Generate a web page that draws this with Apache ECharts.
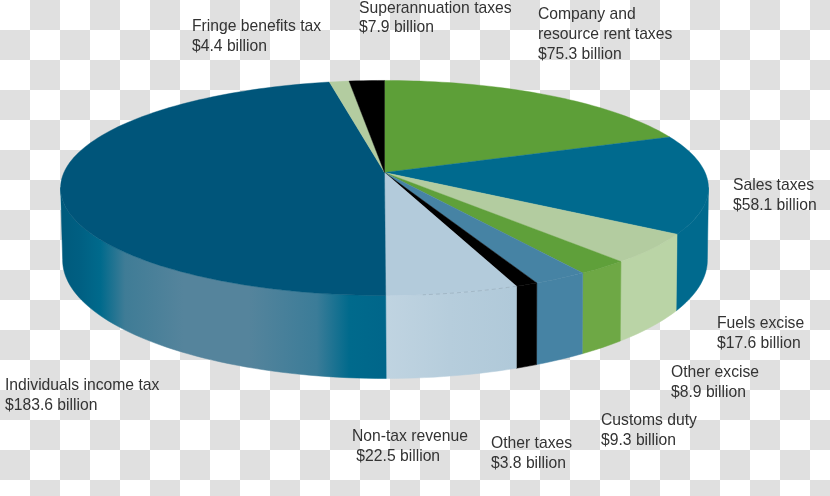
<!DOCTYPE html>
<html>
<head>
<meta charset="utf-8">
<style>html,body{margin:0;padding:0;background:#fff}#c{width:830px;height:496px}</style>
<script src="https://cdn.jsdelivr.net/npm/echarts@6/dist/echarts.min.js"></script>
</head>
<body>
<div id="c"></div>
<script>
// Data, clockwise from twelve o'clock
var categories = ['Company and\nresource rent taxes','Sales taxes','Fuels excise','Other excise','Customs duty','Other taxes','Non-tax revenue','Individuals income tax','Fringe benefits tax','Superannuation taxes'];
var values = [75.3,58.1,17.6,8.9,9.3,3.8,22.5,183.6,4.4,7.9];

// Styles
var topColors = ['#5d9f38','#006a8e','#b3cca0','#5fa03a','#4683a4','#000000','#b3cbdb','#00557a','#b3cca0','#000000'];
var wallColors = ['#5d9f38','#006a8e','#bad4a6','#6ea845','#4683a4','#000000',null,null,'#b3cca0','#000000'];
// Label anchors: left x, centre y of first line
var labelX = [538,733,717,671,601,491,352,5,192,359];
var labelY = [15,186,324,373,421,444,437,386,27,8.5];

var TOP = {x:384.5,y:172.5,a:320.6,b:105.3,k:0.144};
var BOTTOM = {x:385,y:243,a:319,b:116,k:0.144};
var SIL_A = 98, SIL_B = 262; // visible wall range, degrees

var total = values.reduce(function(s,v){return s+v;},0);
var starts = [], acc = 0;
values.forEach(function(v){starts.push(acc/total*360);acc+=v;});
function pt(e,deg){
  var t=deg*Math.PI/180,d=1+e.k*Math.cos(t);
  return [e.x+e.a*Math.sin(t)/d, e.y-e.b*Math.cos(t)/d];
}
function arc(e,a,b){
  var n=Math.max(2,Math.ceil(Math.abs(b-a)/1.5)),r=[];
  for(var i=0;i<=n;i++)r.push(pt(e,a+(b-a)*i/n));
  return r;
}
function wallFill(i){
  if(i===7)return {type:'linear',global:true,x:60,y:0,x2:385,y2:0,colorStops:[
    {offset:0,color:'#005a7c'},{offset:0.06,color:'#005f82'},{offset:0.125,color:'#006a8c'},{offset:0.2,color:'#3f7c96'},
    {offset:0.38,color:'#55849c'},{offset:0.58,color:'#55849c'},{offset:0.79,color:'#3b7c98'},{offset:0.89,color:'#006a8c'},{offset:1,color:'#00668a'}]};
  if(i===6)return {type:'linear',global:true,x:385,y:0,x2:515,y2:0,colorStops:[
    {offset:0,color:'#c0d4e1'},{offset:0.5,color:'#b6cddc'},{offset:1,color:'#b0c9d9'}]};
  return wallColors[i];
}
var checker=document.createElement('canvas');
checker.width=60;checker.height=60;
(function(){var g=checker.getContext('2d');g.fillStyle='#ffffff';g.fillRect(0,0,60,60);g.fillStyle='#e0e0e0';g.fillRect(30,0,30,30);g.fillRect(0,30,30,30);})();

var data = values.map(function(v,i){return {name:categories[i],value:v};});
var dashA = starts[5]+values[5]/total*360;

var chart = echarts.init(document.getElementById('c'),null,{renderer:'canvas'});
chart.setOption({
  animation:false,
  backgroundColor:{image:checker,repeat:'repeat'},
  series:[
    {type:'custom',coordinateSystem:'none',silent:true,data:data,z:1,
     renderItem:function(p,api){
       var i=p.dataIndex,a=starts[i],b=a+api.value(0)/total*360;
       a=Math.max(a,SIL_A);b=Math.min(b,SIL_B);
       if(b<=a)return null;
       var pts=arc(TOP,a,b).concat(arc(BOTTOM,b,a));
       var f=wallFill(i);
       return {type:'polygon',shape:{points:pts},style:{fill:f,stroke:f,lineWidth:0.5}};
     }},
    {type:'custom',coordinateSystem:'none',silent:true,data:data,z:2,
     renderItem:function(p,api){
       var i=p.dataIndex,a=starts[i],b=a+api.value(0)/total*360;
       var pts=[[TOP.x,TOP.y]].concat(arc(TOP,a,b));
       return {type:'polygon',shape:{points:pts},style:{fill:topColors[i],stroke:topColors[i],lineWidth:0.4}};
     }},
    {type:'custom',coordinateSystem:'none',silent:true,data:[values[6]],z:3,
     renderItem:function(){
       return {type:'polyline',shape:{points:arc(TOP,dashA,dashA+15)},
         style:{fill:null,stroke:'#98adbb',lineWidth:0.7,lineDash:[4,3]}};
     }},
    {type:'custom',coordinateSystem:'none',silent:true,data:data,z:4,
     renderItem:function(p,api){
       var i=p.dataIndex,name=categories[i];
       var amount=(i===6?' ':'')+'$'+api.value(0).toFixed(1)+' billion';
       var lines=name.split('\n').concat([amount]);
       return {type:'group',children:lines.map(function(t,j){
         var x=labelX[i];
         return {type:'text',style:{text:t,x:x,y:labelY[i]+j*19.6,fill:'#333333',
           font:'15.7px "Liberation Sans", Arial, sans-serif',textAlign:'left',textVerticalAlign:'middle'}};
       })};
     }}
  ]
});
</script>
</body>
</html>
